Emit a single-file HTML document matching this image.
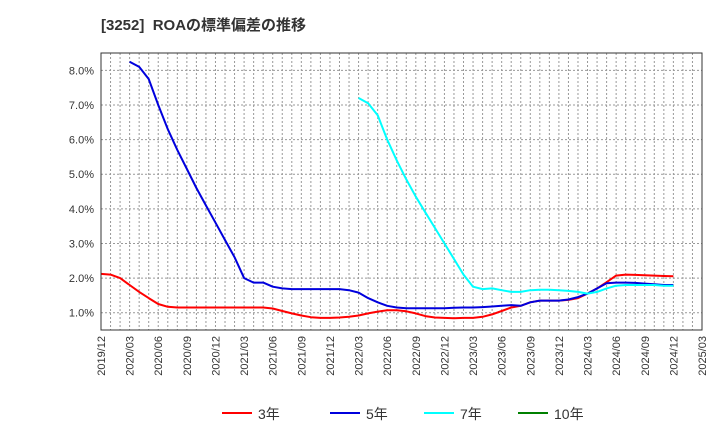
<!DOCTYPE html>
<html><head><meta charset="utf-8"><style>
body{margin:0;background:#fff;font-family:"Liberation Sans","Noto Sans CJK JP",sans-serif;}
svg text{font-family:"Liberation Sans","Noto Sans CJK JP",sans-serif;}
</style></head><body>
<svg id="c" width="720" height="440" xmlns="http://www.w3.org/2000/svg">
<text x="101" y="30" font-size="15" font-weight="bold" fill="#333">[3252]&#160;&#160;ROAの標準偏差の推移</text>
<g id="grid"></g><g id="series"></g><g id="axes"></g><g id="legend"></g>
</svg>
<script>
const xLabels=["2019/12","2020/03","2020/06","2020/09","2020/12","2021/03","2021/06","2021/09","2021/12","2022/03","2022/06","2022/09","2022/12","2023/03","2023/06","2023/09","2023/12","2024/03","2024/06","2024/09","2024/12","2025/03"];
const yTicks=[1,2,3,4,5,6,7,8];
const s3=[2.12,2.1,2.0,1.8,1.6,1.42,1.25,1.17,1.15,1.15,1.15,1.15,1.15,1.15,1.15,1.15,1.15,1.15,1.12,1.05,0.98,0.92,0.87,0.85,0.85,0.86,0.88,0.92,0.98,1.03,1.07,1.07,1.04,0.98,0.9,0.86,0.85,0.84,0.85,0.85,0.88,0.95,1.05,1.15,1.2,1.3,1.35,1.35,1.35,1.37,1.42,1.55,1.7,1.88,2.07,2.1,2.09,2.08,2.07,2.06,2.05];
const s5=[null,null,null,8.25,8.1,7.75,7.0,6.3,5.7,5.15,4.6,4.1,3.6,3.1,2.6,2.0,1.87,1.87,1.75,1.7,1.68,1.68,1.68,1.68,1.68,1.68,1.65,1.58,1.42,1.3,1.2,1.15,1.13,1.13,1.13,1.13,1.13,1.14,1.15,1.15,1.16,1.18,1.2,1.22,1.2,1.3,1.35,1.35,1.35,1.38,1.45,1.55,1.7,1.85,1.87,1.87,1.86,1.84,1.82,1.8,1.8];
const s7=[null,null,null,null,null,null,null,null,null,null,null,null,null,null,null,null,null,null,null,null,null,null,null,null,null,null,null,7.2,7.05,6.7,6.0,5.4,4.85,4.35,3.9,3.45,3.0,2.55,2.1,1.75,1.68,1.7,1.65,1.6,1.6,1.65,1.66,1.66,1.65,1.63,1.6,1.55,1.6,1.7,1.78,1.8,1.8,1.8,1.8,1.78,1.78];
const s10=[];
const X0=101,X1=702,Y0=330,Y1=53,VMIN=0.5,VMAX=8.5,NM=63;
const xs=i=>X0+(X1-X0)*i/NM, ys=v=>Y0-(Y0-Y1)*(v-VMIN)/(VMAX-VMIN);
const NS="http://www.w3.org/2000/svg";
function mk(t,a,p){const e=document.createElementNS(NS,t);for(const k in a)e.setAttribute(k,a[k]);p.appendChild(e);return e;}
const g=document.getElementById('grid'),ax=document.getElementById('axes'),se=document.getElementById('series'),lg=document.getElementById('legend');
for(let i=1;i<NM;i++){const l=mk('line',{x1:xs(i),x2:xs(i),y1:Y1,y2:Y0,stroke:'#999','stroke-dasharray':'2,2','stroke-width':1},g);

}
yTicks.forEach(v=>{const l=mk('line',{x1:X0,x2:X1,y1:ys(v),y2:ys(v),stroke:'#999','stroke-dasharray':'2,2','stroke-width':1},g);


const t=mk('text',{x:X0-7,y:ys(v)+4,'text-anchor':'end','font-size':11,fill:'#333'},ax);t.textContent=v.toFixed(1)+'%';

});
const fr=mk('rect',{x:X0,y:Y1,width:X1-X0,height:Y0-Y1,fill:'none',stroke:'#333','stroke-width':1},ax);


xLabels.forEach((s,k)=>{const x=xs(k*3);const t=mk('text',{x:x+4,y:Y0+6,'text-anchor':'end','font-size':11,fill:'#333',transform:`rotate(-90 ${x+4} ${Y0+6})`},ax);t.textContent=s;

});
function line(arr,col,name){let d='',pen=false;arr.forEach((v,i)=>{if(v==null){pen=false;return;}d+=(pen?'L':'M')+xs(i).toFixed(1)+','+ys(v).toFixed(1);pen=true;});
if(!d)return;const p=mk('path',{d:d,fill:'none',stroke:col,'stroke-width':2,'stroke-linejoin':'round'},se);

}
line(s3,'#ff0000','series-3yr');line(s5,'#0000dd','series-5yr');line(s7,'#00ffff','series-7yr');line(s10,'#008000','series-10yr');
[['3年','#ff0000',222],['5年','#0000dd',330],['7年','#00ffff',424],['10年','#008000',518]].forEach(([n,c,x])=>{
const l=mk('line',{x1:x,x2:x+30,y1:413,y2:413,stroke:c,'stroke-width':2},lg);


const t=mk('text',{x:x+36,y:419,'font-size':14,fill:'#333'},lg);t.textContent=n;

});
</script>
</body></html>
